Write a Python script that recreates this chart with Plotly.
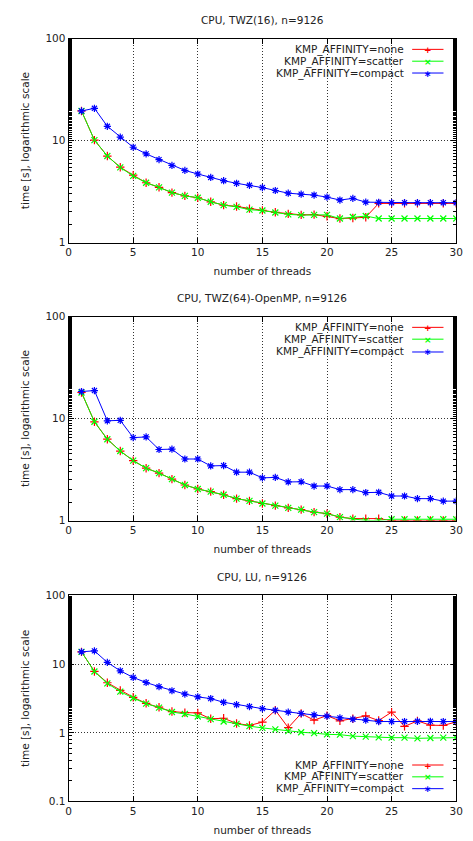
import plotly.graph_objects as go

threads = list(range(1, 31))

# panel 1: CPU, TWZ(16)
twz16_none = [19.5, 10.1, 7.05, 5.48, 4.58, 3.86, 3.48, 3.09, 2.87, 2.75,
              2.51, 2.33, 2.26, 2.15, 2.07, 1.98, 1.91, 1.87, 1.88, 1.81,
              1.72, 1.74, 1.77, 2.42, 2.42, 2.42, 2.42, 2.43, 2.42, 2.42]
twz16_scatter = [19.5, 10.1, 7.05, 5.45, 4.5, 3.86, 3.48, 3.09, 2.87, 2.75,
                 2.51, 2.33, 2.24, 2.10, 2.06, 1.97, 1.89, 1.86, 1.87, 1.87,
                 1.72, 1.78, 1.82, 1.72, 1.72, 1.72, 1.72, 1.72, 1.72, 1.72]
twz16_compact = [19.5, 20.7, 13.8, 10.8, 8.6, 7.4, 6.5, 5.7, 5.1, 4.7,
                 4.35, 4.04, 3.81, 3.64, 3.46, 3.24, 3.05, 2.98, 2.92, 2.79,
                 2.61, 2.71, 2.49, 2.48, 2.46, 2.46, 2.46, 2.46, 2.46, 2.46]

# panel 2: CPU, TWZ(64)-OpenMP
twz64_none = [18.0, 9.29, 6.27, 4.80, 3.87, 3.26, 2.92, 2.55, 2.23, 2.04,
              1.92, 1.79, 1.64, 1.56, 1.47, 1.40, 1.33, 1.28, 1.21, 1.17,
              1.08, 1.045, 1.045, 1.045, 1.0, 1.0, 1.0, 1.0, 1.0, 1.0]
twz64_scatter = [18.0, 9.29, 6.27, 4.80, 3.87, 3.26, 2.92, 2.55, 2.23, 2.04,
                 1.92, 1.79, 1.64, 1.56, 1.47, 1.40, 1.33, 1.28, 1.21, 1.17,
                 1.08, 1.04, 1.0, 1.0, 1.03, 1.03, 1.03, 1.03, 1.03, 1.03]
twz64_compact = [18.4, 18.8, 9.5, 9.6, 6.5, 6.6, 4.97, 5.01, 4.01, 4.01,
                 3.43, 3.46, 2.98, 2.98, 2.62, 2.65, 2.39, 2.40, 2.18, 2.18,
                 2.01, 2.01, 1.88, 1.89, 1.74, 1.74, 1.64, 1.64, 1.55, 1.55]

# panel 3: CPU, LU
lu_none = [15.1, 7.83, 5.36, 4.15, 3.29, 2.69, 2.36, 2.04, 1.97, 1.95,
           1.60, 1.63, 1.37, 1.28, 1.43, 2.13, 1.19, 1.91, 1.53, 1.78,
           1.49, 1.60, 1.76, 1.51, 2.0, 1.24, 1.49, 1.29, 1.28, 1.44]
lu_scatter = [15.1, 7.8, 5.25, 3.97, 3.21, 2.66, 2.33, 2.01, 1.88, 1.73,
              1.58, 1.46, 1.35, 1.25, 1.18, 1.12, 1.06, 1.02, 0.99, 0.95,
              0.94, 0.895, 0.88, 0.86, 0.85, 0.85, 0.83, 0.84, 0.85, 0.85]
lu_compact = [15.1, 15.6, 10.6, 8.0, 6.4, 5.4, 4.7, 4.1, 3.67, 3.33,
              3.15, 2.78, 2.57, 2.41, 2.25, 2.13, 2.0, 1.91, 1.82, 1.75,
              1.65, 1.58, 1.53, 1.46, 1.46, 1.46, 1.47, 1.47, 1.46, 1.46]

titles = ["CPU, TWZ(16), n=9126", "CPU, TWZ(64)-OpenMP, n=9126", "CPU, LU, n=9126"]
series_names = ["KMP_AFFINITY=none", "KMP_AFFINITY=scatter", "KMP_AFFINITY=compact"]
panels = [
    [twz16_none, twz16_scatter, twz16_compact],
    [twz64_none, twz64_scatter, twz64_compact],
    [lu_none, lu_scatter, lu_compact],
]

W, H = 473, 841
colors = ["#ff0000", "#00ff00", "#0000ff"]
symbols = ["cross-thin", "x-thin", "asterisk"]
glyphs = ["+", "\u00d7", "\u2217"]
font = "DejaVu Sans"
fs = 10.5

# pixel boxes of the plot areas (left, right, top, bottom)
x_left, x_right = 67, 463
boxes = [(33, 240), (315, 522), (598, 807)]
yranges = [[0, 2], [0, 2], [-1, 2]]
yticks = [[1, 10, 100], [1, 10, 100], [0.1, 1, 10, 100]]
legend_rows = [[44, 56, 68], [326, 338, 351], [770, 782, 794]]

fig = go.Figure()
layout = dict(
    width=W, height=H,
    margin=dict(l=0, r=0, t=0, b=0),
    plot_bgcolor="white", paper_bgcolor="white",
    showlegend=False,
    font=dict(family=font, size=fs, color="#222222"),
)
shapes = []
annotations = []


def px_x(p):
    return p / W


def px_y(p):
    return 1 - p / H


for i, (data, (top, bot)) in enumerate(zip(panels, boxes)):
    n = "" if i == 0 else str(i + 1)
    xa = "x" + n
    ya = "y" + n
    for j, vals in enumerate(data):
        fig.add_trace(go.Scatter(
            x=threads, y=vals, xaxis=xa, yaxis=ya,
            mode="lines+markers", name=series_names[j],
            line=dict(color=colors[j], width=1),
            marker=dict(symbol=symbols[j], size=6,
                        line=dict(color=colors[j], width=1.2)),
        ))
    layout["xaxis" + n] = dict(
        domain=[px_x(x_left), px_x(x_right)], anchor=ya,
        range=[0, 30], dtick=5, tick0=0,
        ticks="inside", ticklen=5, tickcolor="black",
        showline=True, linecolor="black", linewidth=1, mirror="allticks",
        showgrid=True, gridcolor="#333333", griddash="1px,2px", gridwidth=1,
        zeroline=False,
        title=dict(text="number of threads", standoff=10, font=dict(size=fs)),
        tickfont=dict(size=fs),
    )
    layout["yaxis" + n] = dict(
        domain=[px_y(bot), px_y(top)], anchor=xa,
        type="log", range=yranges[i], tickvals=yticks[i],
        ticktext=[str(v) for v in yticks[i]],
        ticks="inside", ticklen=5, tickcolor="black",
        minor=dict(ticks="inside", ticklen=3, tickcolor="black", showgrid=False),
        showline=True, linecolor="black", linewidth=1, mirror="allticks",
        showgrid=True, gridcolor="#333333", griddash="1px,2px", gridwidth=1,
        zeroline=False,
        title=dict(text="time [s], logarithmic scale", standoff=13,
                   font=dict(size=fs)),
        tickfont=dict(size=fs),
    )
    annotations.append(dict(
        text=titles[i], xref="paper", yref="paper",
        x=px_x((x_left + x_right) / 2), y=px_y(top - 19),
        xanchor="center", yanchor="middle", showarrow=False,
        font=dict(size=fs),
    ))
    # gnuplot-style key: text on the left, sample line on the right
    for j, row in enumerate(legend_rows[i]):
        annotations.append(dict(
            text=series_names[j], xref="paper", yref="paper",
            x=px_x(412), y=px_y(row), xanchor="right", yanchor="middle",
            showarrow=False, font=dict(size=fs),
        ))
        shapes.append(dict(
            type="line", xref="paper", yref="paper",
            x0=px_x(418), x1=px_x(450), y0=px_y(row), y1=px_y(row),
            line=dict(color=colors[j], width=1),
        ))
        annotations.append(dict(
            text="<b>" + glyphs[j] + "</b>", xref="paper", yref="paper",
            x=px_x(434), y=px_y(row), height=9, valign="middle",
            xanchor="center", yanchor="middle", showarrow=False,
            font=dict(size=9, color=colors[j]),
        ))

layout["shapes"] = shapes
layout["annotations"] = annotations
fig.update_layout(**layout)

fig.write_html("out.html", config={"displayModeBar": False},
               post_script="document.body.style.margin='0';")
